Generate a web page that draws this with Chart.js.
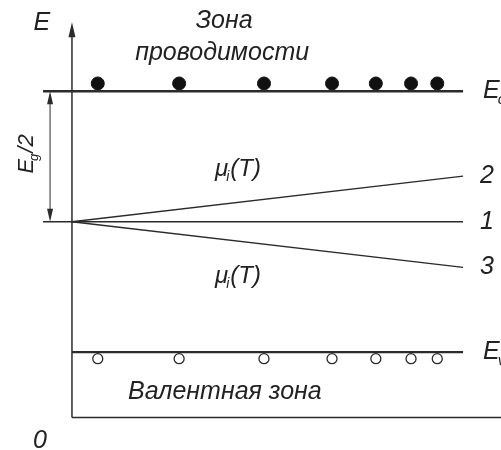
<!DOCTYPE html>
<html>
<head>
<meta charset="utf-8">
<script src="https://cdn.jsdelivr.net/npm/chart.js@4"></script>
<style>
  body { margin: 0; background: #fff; }
  #wrap { width: 501px; height: 450px; }
</style>
</head>
<body>
<div id="wrap"><canvas id="myChart" width="501" height="450"></canvas></div>
<script>
// Energy levels (arbitrary units), T along x (arbitrary units)
const Ec = 2.5;          // bottom of conduction band
const Ev = 0.5;          // top of valence band
const Emid = 1.5;        // middle of the gap, Eg/2 below Ec
const levelT = [0, 10];  // T range of the band edges / mu lines
const tickT = -0.74;     // short tick left of the E axis

const mu1 = [1.5, 1.5];   // line 1
const mu2 = [1.5, 1.85];  // line 2
const mu3 = [1.5, 1.15];  // line 3

const carrierT = [0.66, 2.74, 4.91, 6.65, 7.77, 8.67, 9.34];
const electronE = 2.56;
const holeE = 0.45;

const axisTop = 2.92;
const axisRight = 11.5;

const ink = '#2b2b2b';
const font = '"Liberation Sans", Arial, sans-serif';

function line(points, width) {
    return {
        type: 'line',
        data: points,
        borderColor: ink,
        borderWidth: width,
        pointRadius: 0,
        showLine: true,
        clip: false
    };
}

const datasets = [
    line([{x: 0, y: 0}, {x: 0, y: axisTop}], 1.5),                 // E axis
    line([{x: 0, y: 0}, {x: axisRight, y: 0}], 1.5),               // T axis
    line([{x: tickT, y: Ec}, {x: levelT[1], y: Ec}], 2.4),         // Ec
    line([{x: 0, y: Ev}, {x: levelT[1], y: Ev}], 2.2),             // Ev
    line([{x: tickT, y: mu1[0]}, {x: levelT[1], y: mu1[1]}], 1.4), // 1
    line(levelT.map((t, i) => ({x: t, y: mu2[i]})), 1.4),          // 2
    line(levelT.map((t, i) => ({x: t, y: mu3[i]})), 1.4),          // 3
    {
        type: 'scatter',
        data: carrierT.map(t => ({x: t, y: electronE})),
        pointRadius: 6.5,
        backgroundColor: '#111',
        borderColor: '#111',
        clip: false
    },
    {
        type: 'scatter',
        data: carrierT.map(t => ({x: t, y: holeE})),
        pointRadius: 5,
        backgroundColor: '#fff',
        borderColor: ink,
        borderWidth: 1.3,
        clip: false
    }
];

function arrowHead(ctx, x, y, dir, len, half) {
    ctx.beginPath();
    ctx.moveTo(x, y);
    ctx.lineTo(x - half, y - dir * len);
    ctx.lineTo(x + half, y - dir * len);
    ctx.closePath();
    ctx.fill();
}

const annotations = {
    id: 'annotations',
    afterDatasetsDraw(chart) {
        const ctx = chart.ctx;
        const xs = chart.scales.x, ys = chart.scales.y;
        const px = v => xs.getPixelForValue(v);
        const py = v => ys.getPixelForValue(v);
        ctx.save();
        ctx.fillStyle = ink;
        ctx.strokeStyle = ink;

        // arrow on E axis (pointing up), tip at about 3.03
        arrowHead(ctx, px(0), py(3.03), -1, 15, 3.5);

        // Eg/2 double arrow
        const ax = px(-0.56);
        ctx.lineWidth = 1;
        ctx.beginPath();
        ctx.moveTo(ax, py(Ec) + 4);
        ctx.lineTo(ax, py(Emid) - 4);
        ctx.stroke();
        arrowHead(ctx, ax, py(Ec), -1, 13, 3);
        arrowHead(ctx, ax, py(Emid), 1, 13, 3);

        ctx.fillStyle = '#222';
        ctx.textBaseline = 'middle';
        const it = s => 'italic ' + s + 'px ' + font;

        ctx.font = it(25);
        ctx.textAlign = 'center';
        ctx.fillText('E', px(-0.77), py(3.02));
        ctx.fillText('Зона', px(3.89), py(3.04));
        ctx.fillText('проводимости', px(3.84), py(2.79));
        ctx.fillText('Валентная зона', px(3.91), py(0.195));
        ctx.fillText('0', px(-0.82), py(-0.18));

        // right labels
        ctx.textAlign = 'left';
        ctx.fillText('2', px(10.43), py(mu2[1]));
        ctx.fillText('1', px(10.43), py(mu1[1]));
        ctx.fillText('3', px(10.43), py(mu3[1]));

        function sub(main, s, x, y, size) {
            ctx.font = it(size);
            ctx.textAlign = 'left';
            ctx.fillText(main, x, y);
            const w = ctx.measureText(main).width;
            ctx.font = it(Math.round(size * 0.6));
            ctx.fillText(s, x + w - 2, y + size * 0.33);
            return x + w - 2 + ctx.measureText(s).width;
        }
        sub('E', 'c', px(10.51), py(Ec), 25);
        sub('E', 'v', px(10.51), py(Ev), 25);

        // mu_i(T)
        [1.90, 1.08].forEach(e => {
            const x = sub('μ', 'i', px(3.66), py(e), 24);
            ctx.font = it(24);
            ctx.fillText('(T)', x + 1, py(e));
        });

        // Eg/2 rotated
        ctx.save();
        ctx.translate(px(-1.15), py(2.03));
        ctx.rotate(-Math.PI / 2);
        const x = sub('E', 'g', -21, 0, 22);
        ctx.font = it(22);
        ctx.fillText('/2', x + 1, 0);
        ctx.restore();

        ctx.restore();
    }
};

const ctx = document.getElementById('myChart');
const myChart = new Chart(ctx, {
    type: 'scatter',
    data: { datasets },
    options: {
        responsive: false,
        animation: false,
        layout: { padding: 0, autoPadding: false },
        scales: {
            x: { type: 'linear', min: -1.84, max: 10.97, display: false },
            y: { type: 'linear', min: -0.25, max: 3.2, display: false }
        },
        plugins: {
            legend: { display: false },
            tooltip: { enabled: false }
        }
    },
    plugins: [annotations]
});
</script>
</body>
</html>
